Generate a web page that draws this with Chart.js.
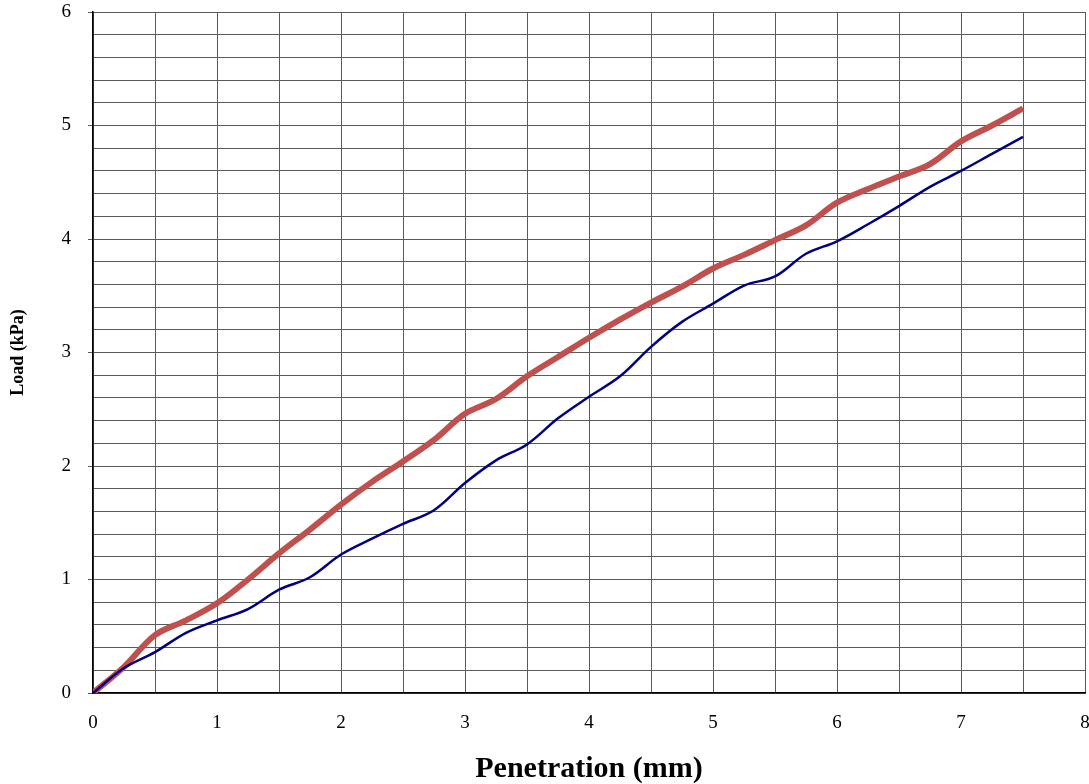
<!DOCTYPE html>
<html>
<head>
<meta charset="utf-8">
<script src="https://cdn.jsdelivr.net/npm/chart.js@4.4.1/dist/chart.umd.min.js"></script>
<style>
  html, body { margin: 0; padding: 0; background: #fff; }
  #wrap { width: 1089px; height: 784px; }
</style>
</head>
<body>
<div id="wrap"><canvas id="loadChart"></canvas></div>
<script>
// Penetration readings (mm) and measured load (kPa) for the two tests
const penetration = [0, 0.25, 0.5, 0.75, 1, 1.25, 1.5, 1.75, 2, 2.25, 2.5, 2.75, 3, 3.25, 3.5, 3.75,
                     4, 4.25, 4.5, 4.75, 5, 5.25, 5.5, 5.75, 6, 6.25, 6.5, 6.75, 7, 7.25, 7.5];
const loadRed = [0, 0.23, 0.51, 0.64, 0.79, 1.0, 1.23, 1.44, 1.66, 1.86, 2.04, 2.23, 2.46, 2.59, 2.79, 2.96,
                 3.13, 3.29, 3.44, 3.58, 3.74, 3.86, 3.99, 4.12, 4.32, 4.44, 4.55, 4.66, 4.86, 5.0, 5.15];
const loadBlue = [0, 0.22, 0.36, 0.53, 0.64, 0.74, 0.91, 1.02, 1.22, 1.36, 1.49, 1.61, 1.85, 2.05, 2.19, 2.42,
                  2.61, 2.79, 3.05, 3.27, 3.43, 3.59, 3.67, 3.87, 3.98, 4.13, 4.29, 4.46, 4.6, 4.75, 4.9];
const xTickLabels = ['0', '1', '2', '3', '4', '5', '6', '7', '8'];
const yTickLabels = ['0', '1', '2', '3', '4', '5', '6'];

const serif = '"Liberation Serif", "Times New Roman", serif';
const isWhole = v => Math.abs(v - Math.round(v)) < 1e-6;

function toPoints(ys) {
  return penetration.map((x, i) => ({ x: x, y: ys[i] }));
}

new Chart(document.getElementById('loadChart'), {
  type: 'line',
  data: {
    datasets: [
      {
        label: 'Test A',
        data: toPoints(loadBlue),
        borderColor: '#000080',
        borderWidth: 2.5,
        pointRadius: 0,
        tension: 0.35
      },
      {
        label: 'Test B',
        data: toPoints(loadRed),
        borderColor: '#c0504d',
        borderWidth: 6,
        pointRadius: 0,
        tension: 0.35
      }
    ]
  },
  options: {
    responsive: true,
    maintainAspectRatio: false,
    animation: false,
    layout: { padding: { top: 12, right: 4, left: 0, bottom: 0 } },
    plugins: {
      legend: { display: false },
      tooltip: { enabled: false }
    },
    scales: {
      x: {
        type: 'linear',
        min: 0,
        max: 8,
        // fixed axis band, no extra room for the end labels
        afterFit: s => { s.height = 91; s.paddingRight = 0; s.paddingLeft = 0; },
        border: { color: '#000', width: 1.5 },
        grid: {
          color: '#5a5a5a',
          lineWidth: 1,
          tickLength: 0
        },
        ticks: {
          stepSize: 0.5,
          padding: 19,
          maxRotation: 0,
          autoSkip: false,
          color: '#000',
          font: { family: serif, size: 19 },
          callback: v => isWhole(v) ? xTickLabels[Math.round(v)] : ''
        },
        title: {
          display: true,
          text: 'Penetration (mm)',
          color: '#000',
          font: { family: serif, size: 30, weight: 'bold' },
          padding: { top: 0, bottom: -3 }
        }
      },
      y: {
        min: 0,
        max: 6,
        afterFit: s => { s.width = 93; s.paddingTop = 0; s.paddingBottom = 0; },
        border: { color: '#000', width: 1.5 },
        grid: {
          color: '#5a5a5a',
          lineWidth: 1,
          tickLength: 5,
          tickColor: ctx => (ctx.tick && isWhole(ctx.tick.value)) ? '#5a5a5a' : 'rgba(0,0,0,0)'
        },
        ticks: {
          stepSize: 0.2,
          padding: 17,
          autoSkip: false,
          color: '#000',
          font: { family: serif, size: 19 },
          callback: v => isWhole(v) ? yTickLabels[Math.round(v)] : ''
        },
        title: {
          display: true,
          text: 'Load (kPa)',
          color: '#000',
          font: { family: serif, size: 18, weight: 'bold' },
          padding: { top: 8, bottom: 0 }
        }
      }
    }
  }
});
</script>
</body>
</html>
